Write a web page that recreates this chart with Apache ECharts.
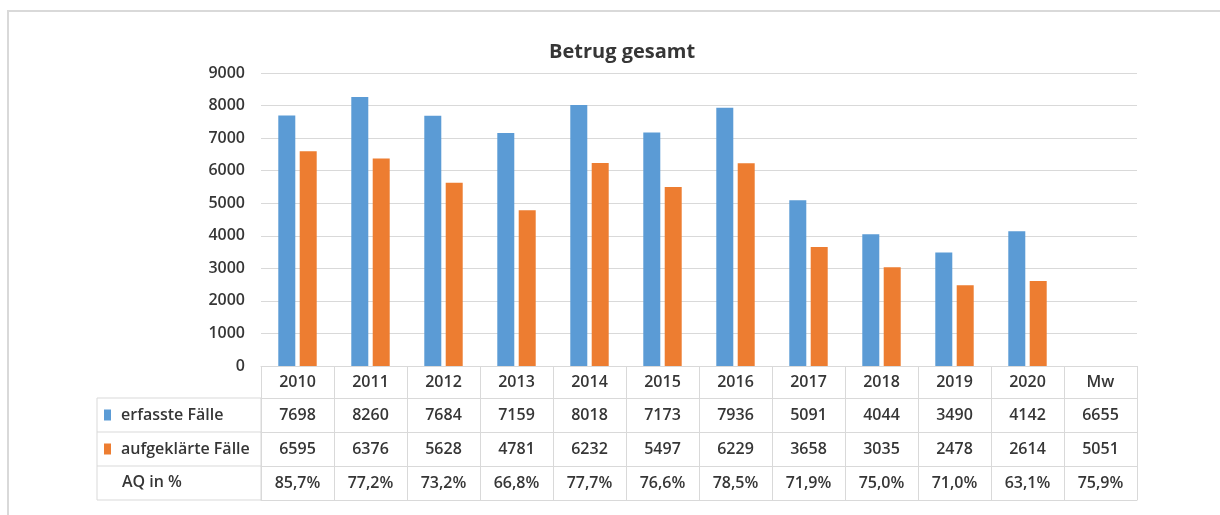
<!DOCTYPE html>
<html>
<head>
<meta charset="utf-8">
<script src="https://cdn.jsdelivr.net/npm/echarts@6/dist/echarts.min.js"></script>
<style>
  html, body { margin: 0; padding: 0; background: #fff; }
  #Et1 { width: 1220px; height: 515px; }
</style>
</head>
<body>
<div id="Et1"></div>
<script>
var jahre = ['2010', '2011', '2012', '2013', '2014', '2015', '2016', '2017', '2018', '2019', '2020', 'Mw'];
var erfasst = [7698, 8260, 7684, 7159, 8018, 7173, 7936, 5091, 4044, 3490, 4142];
var aufgeklaert = [6595, 6376, 5628, 4781, 6232, 5497, 6229, 3658, 3035, 2478, 2614];
var mwErfasst = 6655;
var mwAufgeklaert = 5051;
var aq = [85.7, 77.2, 73.2, 66.8, 77.7, 76.6, 78.5, 71.9, 75.0, 71.0, 63.1, 75.9];
var yTicks = [0, 1000, 2000, 3000, 4000, 5000, 6000, 7000, 8000, 9000];

~function () {
    var myChart = echarts.init(document.getElementById('Et1'));
    var txt = '#363636';
    var linie = '#d9d9d9';
    var schrift = 'Open Sans';

    var zeileErfasst = erfasst.concat([mwErfasst]).map(String);
    var zeileAufgeklaert = aufgeklaert.concat([mwAufgeklaert]).map(String);
    var zeileAq = aq.map(function (v) { return v.toFixed(1).replace('.', ',') + '%'; });

    function tabellenAchse(daten, offset, margin) {
        return {
            type: 'category',
            gridIndex: 0,
            position: 'bottom',
            offset: offset,
            data: daten,
            axisLine: {show: true, lineStyle: {color: linie, width: 1}},
            axisTick: {show: false},
            axisLabel: {
                show: daten.length > 0,
                interval: 0,
                margin: margin,
                color: txt,
                fontSize: 16,
                fontWeight: 600,
                fontFamily: schrift
            }
        };
    }

    var option = {
        backgroundColor: '#fff',
        title: {
            text: 'Betrug gesamt',
            left: 544,
            top: 37,
            textStyle: {
                fontSize: 20,
                fontWeight: 'bold',
                color: txt,
                fontFamily: schrift
            }
        },
        legend: {
            data: ['erfasste Fälle', 'aufgeklärte Fälle'],
            orient: 'vertical',
            left: 104,
            top: 405,
            padding: 0,
            itemGap: 14,
            icon: 'rect',
            itemWidth: 7,
            itemHeight: 11,
            selectedMode: false,
            textStyle: {
                fontSize: 16,
                lineHeight: 20,
                fontWeight: 600,
                color: txt,
                fontFamily: schrift,
                padding: [0, 0, 0, 5]
            }
        },
        grid: {
            left: 261,
            right: 83,
            top: 73,
            bottom: 149
        },
        xAxis: [
            {
                type: 'category',
                data: jahre,
                axisLine: {show: true, lineStyle: {color: linie, width: 1}},
                axisTick: {show: true, interval: 0, length: 134, lineStyle: {color: linie}},
                axisLabel: {
                    interval: 0,
                    margin: 8,
                    color: txt,
                    fontSize: 16,
                    fontWeight: 600,
                    fontFamily: schrift
                }
            },
            tabellenAchse(zeileErfasst, 32, 9),
            tabellenAchse(zeileAufgeklaert, 66, 9),
            tabellenAchse(zeileAq, 100, 9),
            tabellenAchse([], 134, 9)
        ],
        yAxis: [
            {
                type: 'value',
                min: yTicks[0],
                max: yTicks[yTicks.length - 1],
                interval: 1000,
                axisLine: {show: false},
                axisTick: {show: false},
                splitLine: {lineStyle: {color: linie, width: 1}},
                axisLabel: {
                    margin: 16,
                    formatter: function (v) { return String(v); },
                    color: txt,
                    fontSize: 16,
                    fontWeight: 600,
                    fontFamily: schrift
                }
            }
        ],
        graphic: [
            {
                type: 'rect',
                shape: {x: 8, y: 11, width: 1240, height: 520},
                style: {fill: null, stroke: linie, lineWidth: 2},
                silent: true
            },
            {
                type: 'rect',
                shape: {x: 97, y: 398, width: 164, height: 102},
                style: {fill: null, stroke: linie, lineWidth: 1},
                silent: true
            },
            {
                type: 'line',
                shape: {x1: 97, y1: 432, x2: 261, y2: 432},
                style: {stroke: linie, lineWidth: 1},
                silent: true
            },
            {
                type: 'line',
                shape: {x1: 97, y1: 466, x2: 261, y2: 466},
                style: {stroke: linie, lineWidth: 1},
                silent: true
            },
            {
                type: 'text',
                left: 122,
                top: 474,
                style: {
                    text: 'AQ in %',
                    fill: txt,
                    fontSize: 16,
                    fontWeight: 600,
                    fontFamily: schrift
                },
                silent: true
            }
        ],
        series: [
            {
                name: 'erfasste Fälle',
                type: 'bar',
                barWidth: 17,
                barGap: '26%',
                itemStyle: {color: '#5b9bd5'},
                data: erfasst
            },
            {
                name: 'aufgeklärte Fälle',
                type: 'bar',
                barWidth: 17,
                itemStyle: {color: '#ed7d31'},
                data: aufgeklaert
            }
        ]
    };
    myChart.setOption(option);
}();
</script>
</body>
</html>
